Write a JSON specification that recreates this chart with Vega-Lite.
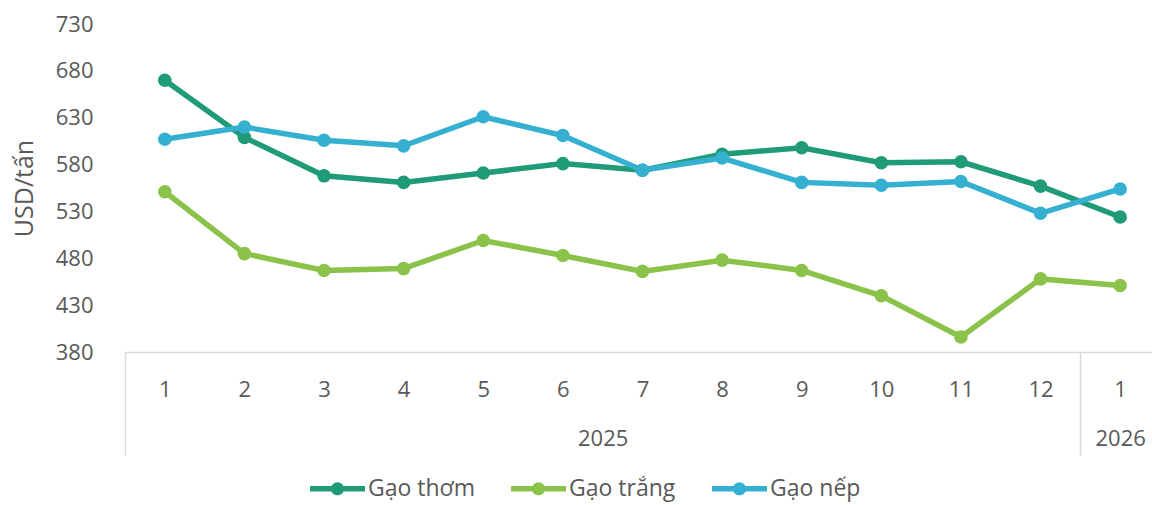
{
  "$schema": "https://vega.github.io/schema/vega-lite/v6.json",
  "width": 1027,
  "height": 328,
  "autosize": "none",
  "padding": {"left": 125, "top": 24, "right": 0, "bottom": 153},
  "background": "white",
  "config": {
    "font": "Open Sans",
    "view": {"stroke": null},
    "axis": {"labelColor": "#595959", "titleColor": "#595959", "grid": false}
  },
  "data": {
    "values": [
      {"i": 1, "thang": "1", "nam": "2025", "loai": "Gạo thơm", "gia": 670},
      {"i": 2, "thang": "2", "nam": "2025", "loai": "Gạo thơm", "gia": 609},
      {"i": 3, "thang": "3", "nam": "2025", "loai": "Gạo thơm", "gia": 568},
      {"i": 4, "thang": "4", "nam": "2025", "loai": "Gạo thơm", "gia": 561},
      {"i": 5, "thang": "5", "nam": "2025", "loai": "Gạo thơm", "gia": 571},
      {"i": 6, "thang": "6", "nam": "2025", "loai": "Gạo thơm", "gia": 581},
      {"i": 7, "thang": "7", "nam": "2025", "loai": "Gạo thơm", "gia": 574},
      {"i": 8, "thang": "8", "nam": "2025", "loai": "Gạo thơm", "gia": 591},
      {"i": 9, "thang": "9", "nam": "2025", "loai": "Gạo thơm", "gia": 598},
      {"i": 10, "thang": "10", "nam": "2025", "loai": "Gạo thơm", "gia": 582},
      {"i": 11, "thang": "11", "nam": "2025", "loai": "Gạo thơm", "gia": 583},
      {"i": 12, "thang": "12", "nam": "2025", "loai": "Gạo thơm", "gia": 557},
      {"i": 13, "thang": "1", "nam": "2026", "loai": "Gạo thơm", "gia": 524},
      {"i": 1, "thang": "1", "nam": "2025", "loai": "Gạo trắng", "gia": 551},
      {"i": 2, "thang": "2", "nam": "2025", "loai": "Gạo trắng", "gia": 485},
      {"i": 3, "thang": "3", "nam": "2025", "loai": "Gạo trắng", "gia": 467},
      {"i": 4, "thang": "4", "nam": "2025", "loai": "Gạo trắng", "gia": 469},
      {"i": 5, "thang": "5", "nam": "2025", "loai": "Gạo trắng", "gia": 499},
      {"i": 6, "thang": "6", "nam": "2025", "loai": "Gạo trắng", "gia": 483},
      {"i": 7, "thang": "7", "nam": "2025", "loai": "Gạo trắng", "gia": 466},
      {"i": 8, "thang": "8", "nam": "2025", "loai": "Gạo trắng", "gia": 478},
      {"i": 9, "thang": "9", "nam": "2025", "loai": "Gạo trắng", "gia": 467},
      {"i": 10, "thang": "10", "nam": "2025", "loai": "Gạo trắng", "gia": 440},
      {"i": 11, "thang": "11", "nam": "2025", "loai": "Gạo trắng", "gia": 396},
      {"i": 12, "thang": "12", "nam": "2025", "loai": "Gạo trắng", "gia": 458},
      {"i": 13, "thang": "1", "nam": "2026", "loai": "Gạo trắng", "gia": 451},
      {"i": 1, "thang": "1", "nam": "2025", "loai": "Gạo nếp", "gia": 607},
      {"i": 2, "thang": "2", "nam": "2025", "loai": "Gạo nếp", "gia": 620},
      {"i": 3, "thang": "3", "nam": "2025", "loai": "Gạo nếp", "gia": 606},
      {"i": 4, "thang": "4", "nam": "2025", "loai": "Gạo nếp", "gia": 600},
      {"i": 5, "thang": "5", "nam": "2025", "loai": "Gạo nếp", "gia": 631},
      {"i": 6, "thang": "6", "nam": "2025", "loai": "Gạo nếp", "gia": 611},
      {"i": 7, "thang": "7", "nam": "2025", "loai": "Gạo nếp", "gia": 574},
      {"i": 8, "thang": "8", "nam": "2025", "loai": "Gạo nếp", "gia": 587},
      {"i": 9, "thang": "9", "nam": "2025", "loai": "Gạo nếp", "gia": 561},
      {"i": 10, "thang": "10", "nam": "2025", "loai": "Gạo nếp", "gia": 558},
      {"i": 11, "thang": "11", "nam": "2025", "loai": "Gạo nếp", "gia": 562},
      {"i": 12, "thang": "12", "nam": "2025", "loai": "Gạo nếp", "gia": 528},
      {"i": 13, "thang": "1", "nam": "2026", "loai": "Gạo nếp", "gia": 554}
    ]
  },
  "layer": [
    {
      "layer": [
        {"mark": {"type": "line", "strokeWidth": 5.5}},
        {"mark": {"type": "point", "filled": true, "opacity": 1, "size": 185}}
      ],
      "encoding": {
        "x": {
          "field": "i",
          "type": "quantitative",
          "scale": {"domain": [0.5, 13.4], "nice": false, "zero": false},
          "axis": {
            "orient": "bottom",
            "title": null,
            "values": [1, 2, 3, 4, 5, 6, 7, 8, 9, 10, 11, 12, 13],
            "labelExpr": "datum.value == 13 ? '1' : datum.label",
            "ticks": false,
            "domainColor": "#d9d9d9",
            "domainWidth": 1.5,
            "labelFontSize": 22,
            "labelPadding": 27,
            "labelFlush": false,
            "labelOverlap": false,
            "labelBound": false
          }
        },
        "y": {
          "field": "gia",
          "type": "quantitative",
          "scale": {"domain": [380, 730], "nice": false, "zero": false},
          "axis": {
            "values": [380, 430, 480, 530, 580, 630, 680, 730],
            "ticks": false,
            "domain": false,
            "labelFontSize": 22,
            "labelPadding": 32,
            "title": "USD/tấn",
            "titleFontSize": 25,
            "titleFontWeight": "normal",
            "titlePadding": 18
          }
        },
        "color": {
          "field": "loai",
          "type": "nominal",
          "scale": {"domain": ["Gạo thơm", "Gạo trắng", "Gạo nếp"], "range": ["#1f9b77", "#8bc34a", "#36b0d1"]},
          "legend": {
            "orient": "none",
            "legendX": 185,
            "legendY": 437,
            "direction": "horizontal",
            "title": null,
            "symbolType": "M-1,-0.1L1,-0.1L1,0.1L-1,0.1Z M0.24,0A0.24,0.24 0 1 1 -0.24,0A0.24,0.24 0 1 1 0.24,0Z",
            "symbolSize": 3025,
            "labelFontSize": 23,
            "labelColor": "#595959",
            "labelOffset": 3,
            "columnPadding": 36,
            "encode": {
              "symbols": {
                "update": {
                  "fill": {"scale": "color", "field": "value"},
                  "stroke": {"value": "transparent"},
                  "strokeWidth": {"value": 0}
                }
              }
            }
          }
        }
      }
    },
    {
      "mark": {"type": "point", "opacity": 0},
      "encoding": {
        "x": {
          "field": "i",
          "type": "quantitative",
          "scale": {"domain": [0.5, 13.4], "nice": false, "zero": false},
          "axis": {
            "orient": "bottom",
            "title": null,
            "values": [0.5, 6.5, 12.5, 13],
            "labelExpr": "datum.value == 6.5 ? '2025' : (datum.value == 13 ? '2026' : '')",
            "tickSize": 103,
            "tickWidth": 1.5,
            "tickColor": {"condition": {"test": "datum.value == 6.5 || datum.value == 13", "value": "transparent"}, "value": "#d9d9d9"},
            "domain": false,
            "labelPadding": -27,
            "labelFontSize": 22,
            "labelFlush": false,
            "labelOverlap": false,
            "labelBound": false
          }
        },
        "y": {"field": "gia", "type": "quantitative"}
      }
    }
  ],
  "resolve": {"scale": {"x": "independent"}, "axis": {"x": "independent"}}
}
